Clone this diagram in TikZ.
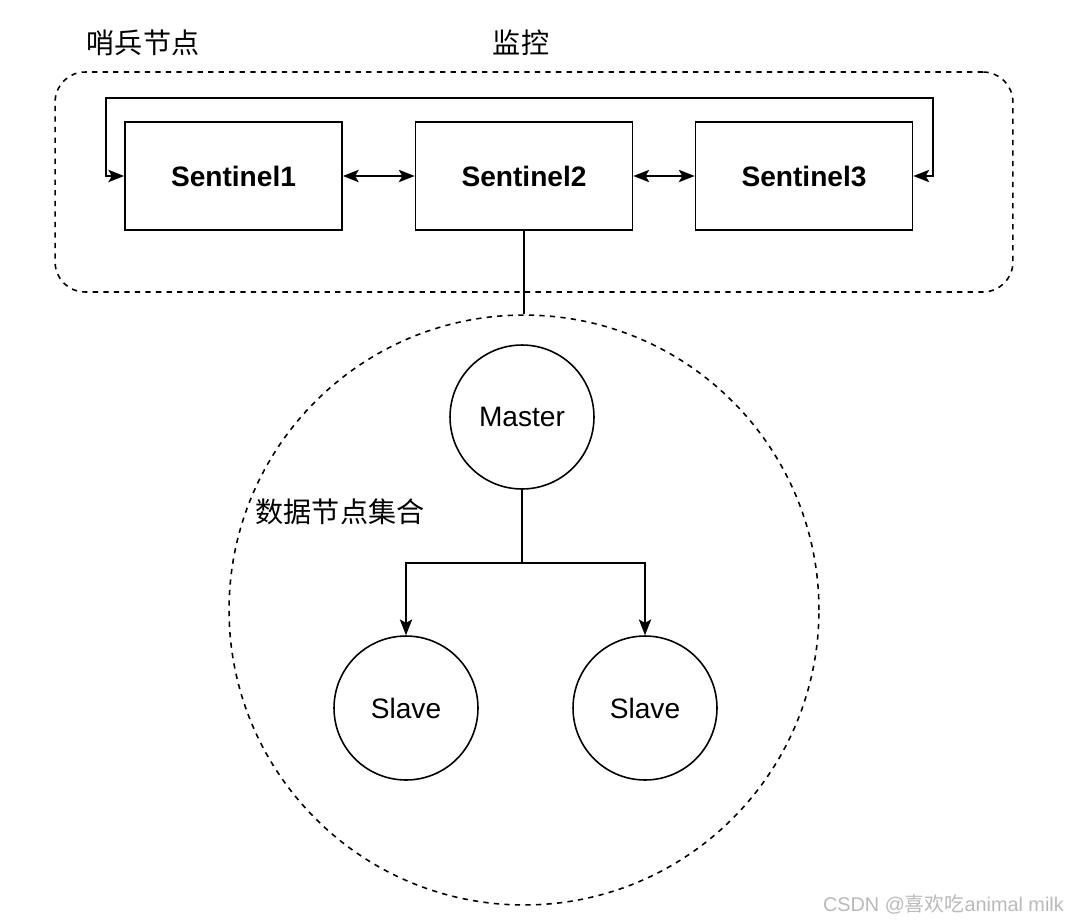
\documentclass[tikz,border=0pt]{standalone}
\usepackage{fontspec}
\usepackage{tikz}
\usetikzlibrary{arrows.meta}
\setmainfont{Liberation Sans}
\newfontfamily\cjk{Noto Sans CJK SC}

\begin{document}
\begin{tikzpicture}[x=0.02cm, y=-0.02cm,
  sentinel/.style={draw, line width=1pt, minimum width=4.34cm, minimum height=2.16cm, font=\fontsize{16}{19}\selectfont\bfseries},
  redisnode/.style={circle, draw, line width=0.9pt, minimum size=2.88cm, inner sep=0pt, font=\fontsize{16}{19}\selectfont},
  grupo/.style={draw, dashed, line width=0.9pt},
  texto/.style={font=\fontsize{16}{19}\selectfont\cjk},
  seta/.style={line width=1pt, -{Stealth[length=9pt, width=7pt, inset=2pt]}},
  setadupla/.style={line width=1pt, {Stealth[length=9pt, width=7pt, inset=2pt]}-{Stealth[length=9pt, width=7pt, inset=2pt]}}
]
\useasboundingbox (0,0) rectangle (1074,923);

% Grupo dos sentinelas
\node[grupo, rounded corners=0.6cm, minimum width=19.16cm, minimum height=4.4cm] (sentgroup) at (534,182) {};
\node[texto] (sentlabel) at (143,43) {哨兵节点};
\node[texto] (monitor) at (521,43) {监控};

% Sentinelas
\node[sentinel] (s1) at (233.5,176) {Sentinel1};
\node[sentinel] (s2) at (524,176) {Sentinel2};
\node[sentinel] (s3) at (804,176) {Sentinel3};

\draw[setadupla] (s1) -- (s2);
\draw[setadupla] (s2) -- (s3);

% Volta por cima
\coordinate (loopR) at (933,98);
\draw[setadupla] (s1.west) -- ++(-18,0) |- (loopR) |- (s3.east);

% Conjunto de dados
\node[grupo, circle, minimum size=11.8cm] (datagroup) at (524,610) {};
\node[texto] (datalabel) at (340,512) {数据节点集合};
\draw[line width=1pt] (s2.south) -- (datagroup.north);

% Master e slaves
\node[redisnode] (master) at (522,417) {Master};
\node[redisnode] (slave1) at (406,708) {Slave};
\node[redisnode] (slave2) at (645,708) {Slave};

\coordinate (branch) at (522,563);
\draw[line width=1pt] (master.south) -- (branch);
\draw[seta] (branch) -| (slave1.north);
\draw[seta] (branch) -| (slave2.north);

% Marca d'agua
\node[anchor=east, text=gray!55, font=\fontsize{11.3}{13}\selectfont] (mark) at (1070,905) {CSDN @{\cjk 喜欢吃}animal milk};

\end{tikzpicture}
\end{document}
